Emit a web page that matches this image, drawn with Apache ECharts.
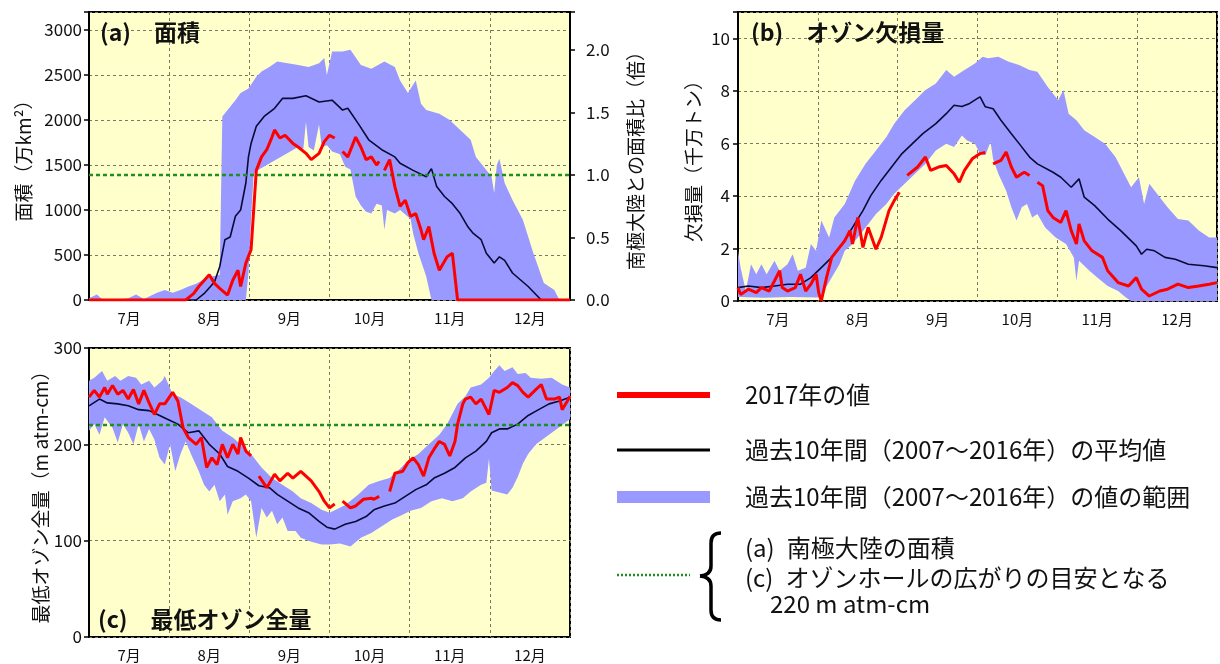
<!DOCTYPE html>
<html><head><meta charset="utf-8">
<script src="https://cdn.jsdelivr.net/npm/echarts@6/dist/echarts.min.js"></script>
<style>html,body{margin:0;padding:0;background:#fff}#c{width:1220px;height:664px}</style>
</head><body><div id="c"></div>
<script>
// ---- categories / ticks ----
const months = ['7月','8月','9月','10月','11月','12月'];
const dayMax = 184; // day index: 0 = 7/1, 184 = 1/1

// ---- (a) area (万km2) : [day, value] ----
const areaMean = [[0,0],[41,0],[44,70],[48,200],[50,370],[52,670],[54,700],[56,930],[58,1000],[60,1300],[61,1590],[62,1740],[64,1930],[67,2040],[71,2130],[74,2240],[78,2240],[83,2270],[88,2200],[93,2220],[97,2110],[99,2130],[103,1960],[107,1780],[112,1670],[117,1590],[119,1520],[124,1440],[129,1370],[131,1460],[133,1260],[136,1150],[139,1070],[142,960],[145,810],[147,740],[150,670],[152,520],[155,410],[157,480],[159,440],[162,300],[168,150],[173,0],[184,0]];
const areaRed = [[0,0],[37,0],[40,70],[42,150],[46,280],[48,185],[50,130],[53,55],[55,220],[57,330],[58,150],[60,410],[62,560],[63,1000],[64,1440],[66,1590],[68,1670],[70,1810],[71,1890],[73,1800],[75,1830],[78,1740],[80,1700],[83,1630],[85,1560],[88,1630],[90,1760],[92,1830],[94,1800],[95,null],[97,1650],[99,1590],[102,1810],[104,1700],[106,1560],[108,1590],[110,1500],[111,1540],[112,null],[113,1440],[115,1560],[117,1260],[119,1040],[121,1110],[123,930],[125,960],[127,780],[128,670],[130,815],[132,520],[134,330],[137,480],[139,520],[141,0],[184,0]];
const areaHigh = [[0,20],[3,60],[5,10],[10,0],[15,20],[18,60],[21,10],[26,80],[29,110],[32,80],[35,110],[38,150],[41,180],[44,230],[47,260],[50,280],[51,2040],[53,2110],[56,2220],[58,2300],[61,2350],[64,2480],[66,2540],[69,2590],[72,2650],[76,2630],[80,2610],[84,2590],[88,2630],[90,2690],[91,2500],[93,2760],[97,2760],[100,2780],[104,2610],[108,2570],[113,2650],[117,2590],[119,2440],[122,2300],[125,2440],[127,2180],[129,2110],[134,2070],[138,2000],[142,1890],[146,1780],[148,1590],[151,1480],[154,1370],[155,1190],[156,1500],[157,1570],[159,1300],[162,1110],[166,890],[170,520],[174,190],[178,110],[180,0],[184,0]];
const areaLow = [[0,0],[60,0],[61,300],[62,900],[63,1400],[65,1450],[68,1500],[71,1550],[74,1600],[77,1650],[80,1700],[82,1680],[83,1980],[84,1700],[86,1660],[88,1950],[89,1700],[91,1720],[93,1650],[96,1620],[98,1480],[100,1450],[102,1150],[104,1050],[106,980],[108,960],[110,1070],[112,1050],[113,780],[114,1000],[117,960],[119,1000],[121,950],[123,900],[124,740],[126,520],[129,260],[131,0],[184,0]];
const antarcticaArea = 1390;  // 万km2, ratio 1.0
const ratioGuide = 1.0;

// ---- (b) ozone mass deficit (千万トン) ----
const depMean = [[0,0.51],[4,0.57],[9,0.51],[14,0.57],[19,0.64],[24,0.64],[28,0.89],[32,1.27],[36,1.66],[40,2.17],[44,2.80],[48,3.44],[51,4.01],[55,4.59],[59,5.10],[63,5.61],[67,5.99],[71,6.37],[76,6.75],[80,7.13],[83,7.45],[86,7.40],[89,7.52],[92,7.71],[93,7.77],[95,7.39],[98,7.32],[101,6.88],[105,6.37],[108,5.99],[112,5.48],[115,5.22],[121,4.90],[124,4.71],[128,4.33],[131,4.65],[133,3.95],[137,3.63],[142,3.12],[147,2.68],[153,2.10],[155,1.78],[157,1.97],[160,1.91],[164,1.66],[168,1.59],[173,1.40],[179,1.34],[184,1.27]];
const depRed = [[0,0.51],[1,0.25],[4,0.45],[7,0.32],[9,0.51],[12,0.38],[14,0.76],[16,1.15],[17,0.51],[19,0.38],[22,0.51],[24,1.02],[26,0.38],[28,0.64],[30,1.02],[31,0.32],[32,0.0],[34,0.89],[36,1.66],[39,2.04],[41,2.29],[43,2.68],[44,2.17],[46,3.18],[48,2.04],[50,2.80],[53,1.97],[55,2.42],[58,3.44],[60,3.82],[62,4.14],[63,null],[65,4.78],[69,5.10],[72,5.48],[74,4.97],[77,5.10],[80,5.16],[83,4.84],[85,4.52],[87,4.97],[90,5.41],[93,5.61],[95,5.65],[96,null],[98,5.22],[101,5.35],[103,5.67],[105,5.10],[107,4.71],[109,4.84],[110,4.90],[112,4.78],[113,null],[115,4.52],[117,4.39],[119,3.44],[121,3.18],[124,2.99],[126,3.44],[128,2.68],[130,2.17],[131,2.93],[133,2.29],[136,1.91],[140,1.66],[142,1.15],[146,0.70],[150,0.57],[153,0.89],[155,0.45],[158,0.19],[162,0.38],[165,0.45],[169,0.64],[173,0.51],[177,0.57],[181,0.64],[184,0.70]];
const depHigh = [[0,1.91],[1,1.27],[3,0.38],[5,1.40],[7,1.02],[9,1.40],[11,1.02],[14,1.53],[16,1.15],[19,1.40],[21,1.78],[23,1.15],[26,1.27],[28,2.17],[30,1.91],[32,3.06],[35,2.42],[37,3.18],[41,3.69],[45,4.59],[49,5.22],[53,5.73],[57,6.24],[60,6.75],[64,7.26],[68,7.64],[72,8.03],[76,8.28],[80,8.79],[83,8.54],[87,8.79],[91,9.04],[94,9.30],[96,9.24],[100,9.30],[104,9.11],[108,8.98],[112,8.79],[115,8.73],[119,8.15],[123,7.64],[125,8.03],[127,7.13],[130,6.88],[133,6.50],[137,6.24],[141,5.99],[145,5.48],[149,4.71],[151,4.33],[154,4.71],[156,3.69],[158,4.46],[162,3.95],[165,3.57],[169,3.12],[173,3.06],[177,2.68],[181,2.42],[184,2.42]];
const depLow = [[0,0.15],[10,0.12],[20,0.15],[31,0.13],[33,0.38],[36,0.89],[39,1.40],[41,1.91],[44,2.17],[46,2.42],[49,2.80],[53,3.31],[57,3.69],[60,4.08],[64,4.46],[68,4.84],[72,5.22],[76,5.73],[80,5.99],[83,5.86],[86,6.30],[88,6.11],[91,5.99],[93,5.60],[95,5.55],[97,6.05],[98,5.40],[100,4.84],[103,4.20],[105,3.57],[107,3.06],[109,3.57],[111,3.69],[113,3.18],[115,3.31],[118,2.80],[122,2.42],[126,2.17],[129,1.66],[130,0.76],[131,1.53],[135,1.15],[138,0.89],[142,0.57],[146,0.38],[149,0.13],[151,0],[184,0]];

// ---- (c) minimum total ozone (m atm-cm) ----
const ozMean = [[0,240],[4,247],[7,243],[11,242],[15,240],[19,236],[23,235],[27,230],[30,226],[34,221],[38,212],[42,214],[46,200],[50,190],[53,177],[57,172],[61,165],[65,157],[69,155],[72,148],[76,141],[80,134],[84,129],[88,120],[91,114],[94,112],[98,117],[102,120],[106,125],[109,132],[113,136],[117,139],[121,146],[125,153],[129,158],[132,165],[136,170],[140,176],[144,186],[148,193],[152,203],[154,212],[157,216],[160,216],[164,221],[168,230],[172,236],[176,242],[180,245],[184,249]];
const ozRed = [[0,249],[2,256],[4,249],[6,259],[7,252],[9,261],[11,252],[13,256],[15,247],[17,257],[19,242],[21,256],[23,243],[25,231],[27,242],[29,242],[32,254],[34,245],[36,217],[38,207],[41,200],[43,207],[45,176],[47,186],[49,179],[51,200],[53,186],[55,200],[57,190],[58,207],[60,193],[62,188],[63,null],[65,167],[68,155],[71,169],[73,162],[76,170],[78,165],[81,172],[85,162],[88,151],[90,141],[92,134],[94,138],[95,null],[97,141],[100,134],[102,136],[105,143],[108,144],[109,143],[111,146],[112,null],[115,151],[117,170],[120,172],[122,181],[124,186],[126,179],[128,167],[130,186],[132,195],[134,203],[136,200],[138,188],[140,203],[141,221],[143,242],[144,247],[146,249],[148,242],[150,247],[153,231],[155,256],[157,254],[160,259],[162,264],[164,261],[166,254],[168,249],[171,257],[173,262],[175,247],[178,247],[180,249],[181,236],[183,245],[184,250]];
const ozHigh = [[0,266],[2,269],[5,276],[7,266],[10,271],[12,266],[15,271],[18,269],[20,262],[23,266],[25,259],[28,266],[29,271],[32,252],[35,249],[39,242],[43,235],[47,228],[51,214],[55,207],[58,200],[62,190],[66,176],[70,165],[74,158],[78,151],[81,144],[85,139],[89,132],[92,129],[95,133],[98,137],[103,148],[107,158],[111,162],[115,165],[118,172],[122,183],[126,190],[130,200],[134,210],[137,221],[141,242],[144,250],[146,259],[150,262],[153,269],[155,276],[157,282],[159,276],[162,280],[164,273],[167,274],[169,269],[173,268],[177,269],[181,262],[184,259]];
const ozLow = [[0,214],[2,221],[4,210],[6,228],[9,217],[11,202],[13,221],[15,212],[17,200],[19,221],[21,203],[23,216],[25,205],[27,186],[29,179],[31,200],[33,172],[35,190],[37,203],[39,190],[42,172],[44,158],[46,151],[48,158],[50,141],[52,148],[53,127],[55,141],[58,144],[60,148],[62,141],[64,103],[66,134],[68,124],[70,131],[72,117],[74,124],[76,110],[79,110],[81,103],[85,99],[89,96],[92,96],[96,97],[100,94],[104,103],[108,108],[112,115],[116,122],[120,127],[123,131],[127,134],[131,141],[135,144],[139,141],[143,144],[146,151],[150,158],[152,160],[153,185],[154,152],[157,150],[160,148],[162,155],[164,166],[166,180],[168,190],[171,200],[174,206],[177,212],[180,218],[184,226]];
const ozoneGuide = 220;

// ---- styling ----
const FONT = '"Noto Sans CJK JP", "Noto Sans", sans-serif';
const C = { bg:'#ffffcc', band:'#9999ff', red:'#ff0000', mean:'#0a0a35', green:'#1f8f1f', grid:'#7a7a60', txt:'#111' };
const grids = [
  {left:89, top:12, width:481, height:288},
  {left:738, top:12, width:479, height:289},
  {left:89, top:348, width:481, height:289}
].map(g => Object.assign({show:true, backgroundColor:C.bg, borderColor:'#000', borderWidth:2, containLabel:false}, g));

const splitDash = {show:true, lineStyle:{type:[3,3], color:C.grid, width:1}};
const xAxes = [];
grids.forEach((g, i) => {
  xAxes.push({type:'value', gridIndex:i, min:0, max:dayMax, show:false});
  xAxes.push({type:'category', gridIndex:i, data:months, boundaryGap:true, position:'bottom',
    axisLine:{show:false}, axisTick:{show:false},
    axisLabel:{fontSize:15, color:C.txt, fontFamily:FONT, margin:11, interval:0},
    splitLine:Object.assign({interval:0}, splitDash)});
});
function yAx(gi, opt) {
  return Object.assign({type:'value', gridIndex:gi, nameLocation:'middle', nameRotate:90,
    nameTextStyle:{fontSize:19, color:C.txt, fontFamily:FONT},
    axisLine:{show:true, lineStyle:{color:'#000', width:2}},
    axisTick:{show:true, length:5, lineStyle:{color:'#000', width:1.5}},
    splitLine:splitDash}, opt);
}
const yAxes = [
  yAx(0, {min:0, max:3200, interval:500, position:'left', name:'面積（万km²）', nameGap:56,
    axisLabel:{fontSize:17, color:C.txt, fontFamily:FONT, margin:7, formatter:v => v % 500 === 0 ? String(v) : ''}}),
  yAx(0, {min:0, max:3200/antarcticaArea, interval:0.5, position:'right', name:'南極大陸との面積比（倍）', nameGap:56,
    splitLine:{show:false},
    axisLabel:{fontSize:17, color:C.txt, fontFamily:FONT, margin:16, formatter:v => Math.abs(v*2 - Math.round(v*2)) < 1e-6 ? v.toFixed(1) : ''}}),
  yAx(1, {min:0, max:11, interval:2, position:'left', name:'欠損量（千万トン）', nameGap:35,
    axisLabel:{fontSize:17, color:C.txt, fontFamily:FONT, margin:8, formatter:v => v % 2 === 0 ? String(v) : ''}}),
  yAx(2, {min:0, max:300, interval:100, position:'left', name:'最低オゾン全量（m atm-cm）', nameGap:39,
    axisLabel:{fontSize:17, color:C.txt, fontFamily:FONT, margin:7}})
];

function band(xi, yi, hi, lo) {
  return {type:'custom', xAxisIndex:xi, yAxisIndex:yi, data:[[0,0]], silent:true, z:1, clip:true,
    renderItem:(p, api) => ({type:'polygon',
      shape:{points: hi.map(d => api.coord(d)).concat(lo.slice().reverse().map(d => api.coord(d)))},
      style:{fill:C.band}})};
}
function line(xi, yi, data, color, width, z, dash) {
  return {type:'line', xAxisIndex:xi, yAxisIndex:yi, data:data, symbol:'none', showSymbol:false,
    connectNulls:false, silent:true, z:z, animation:false,
    lineStyle:{color:color, width:width, type: dash || 'solid'}};
}
const guideLine = (xi, yi, v) => line(xi, yi, [[0, v], [dayMax, v]], C.green, 2.5, 4, [4,3]);

const series = [
  band(0, 0, areaHigh, areaLow),
  line(0, 0, areaMean, C.mean, 1.6, 3),
  guideLine(0, 1, ratioGuide),
  line(0, 0, areaRed, C.red, 3, 5),
  band(2, 2, depHigh, depLow),
  line(2, 2, depMean, C.mean, 1.6, 3),
  line(2, 2, depRed, C.red, 3, 5),
  band(4, 3, ozHigh, ozLow),
  line(4, 3, ozMean, C.mean, 1.6, 3),
  guideLine(4, 3, ozoneGuide),
  line(4, 3, ozRed, C.red, 3, 5)
];

function txt(x, y, s, size, weight) {
  return {type:'text', x:x, y:y, z:50, silent:true,
    style:{text:s, fontSize:size, fontWeight:weight || 'normal', fontFamily:FONT, fill:C.txt, verticalAlign:'middle', textVerticalAlign:'middle'}};
}
const braceStyle = {stroke:'#000', lineWidth:3.5, fill:'none'};
const graphic = [
  txt(100, 32, '(a)　面積', 23, 'bold'),
  txt(751, 32, '(b)　オゾン欠損量', 23, 'bold'),
  txt(98, 619, '(c)　最低オゾン全量', 23, 'bold'),
  {type:'line', z:50, shape:{x1:617, y1:395, x2:710, y2:395}, style:{stroke:C.red, lineWidth:6}},
  txt(745, 395, '2017年の値', 24),
  {type:'line', z:50, shape:{x1:617, y1:450, x2:710, y2:450}, style:{stroke:'#000', lineWidth:3}},
  txt(745, 450, '過去10年間（2007～2016年）の平均値', 24),
  {type:'rect', z:50, shape:{x:617, y:491, width:93, height:12}, style:{fill:C.band}},
  txt(745, 497, '過去10年間（2007～2016年）の値の範囲', 24),
  {type:'line', z:50, shape:{x1:617, y1:575, x2:690, y2:575}, style:{stroke:C.green, lineWidth:2.5, lineDash:[2,2]}},
  {type:'bezierCurve', z:50, shape:{x1:721, y1:533, cpx1:711, cpy1:533, x2:711, y2:543}, style:braceStyle},
  {type:'line', z:50, shape:{x1:711, y1:543, x2:711, y2:566}, style:braceStyle},
  {type:'bezierCurve', z:50, shape:{x1:711, y1:566, cpx1:711, cpy1:575, x2:700, y2:576}, style:braceStyle},
  {type:'bezierCurve', z:50, shape:{x1:700, y1:576, cpx1:711, cpy1:577, x2:711, y2:586}, style:braceStyle},
  {type:'line', z:50, shape:{x1:711, y1:586, x2:711, y2:610}, style:braceStyle},
  {type:'bezierCurve', z:50, shape:{x1:711, y1:610, cpx1:711, cpy1:620, x2:721, y2:620}, style:braceStyle},
  txt(745, 548, '(a)\u2002南極大陸の面積', 24),
  txt(745, 578, '(c)\u2002オゾンホールの広がりの目安となる', 24),
  txt(770, 604, '220 m atm-cm', 24)
];

const chart = echarts.init(document.getElementById('c'), null, {renderer:'canvas'});
chart.setOption({animation:false, backgroundColor:'#fff', grid:grids, xAxis:xAxes, yAxis:yAxes, series:series, graphic:graphic});
</script></body></html>
